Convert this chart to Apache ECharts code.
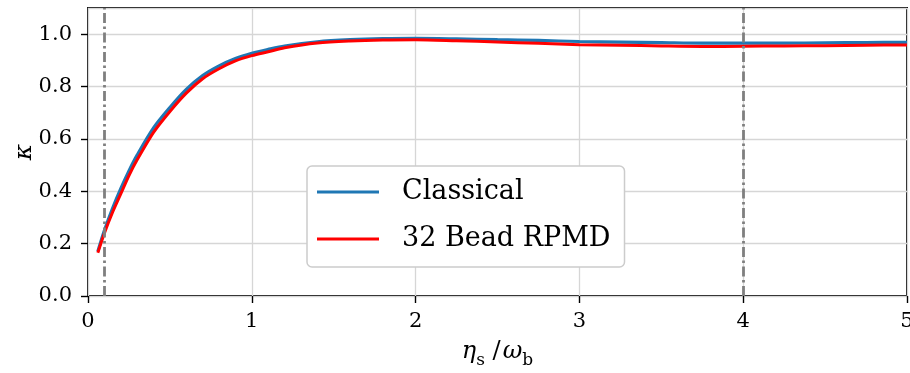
<!DOCTYPE html>
<html>
<head>
<meta charset="utf-8">
<script src="https://cdn.jsdelivr.net/npm/echarts@6/dist/echarts.min.js"></script>
<style>html,body{margin:0;padding:0;background:#fff}#c{width:910px;height:373px}</style>
</head>
<body>
<div id="c"></div>
<script>
const xValues = [0.06,0.1,0.15,0.2,0.25,0.3,0.4,0.5,0.6,0.7,0.8,0.9,1.0,1.1,1.2,1.4,1.6,1.8,2.0,2.25,2.5,2.75,3.0,3.25,3.5,3.75,4.0,4.25,4.5,4.75,5.0];
const classical = [0.17,0.25,0.335,0.41,0.478,0.538,0.642,0.72,0.789,0.842,0.879,0.907,0.927,0.942,0.955,0.971,0.979,0.983,0.984,0.982,0.979,0.976,0.972,0.970,0.968,0.966,0.966,0.966,0.967,0.968,0.969];
const rpmd32 = [0.165,0.24,0.32,0.39,0.46,0.52,0.625,0.705,0.775,0.83,0.868,0.898,0.918,0.933,0.948,0.966,0.974,0.978,0.979,0.975,0.970,0.965,0.960,0.958,0.955,0.953,0.954,0.955,0.956,0.958,0.959];
const seriesNames = ['Classical','32 Bead RPMD'];
const vLines = [0.1, 4];

const FONT = 'DejaVu Serif';
const chart = echarts.init(document.getElementById('c'), null, {renderer:'canvas'});
const pair = (xs, ys) => xs.map((x,i)=>[x, ys[i]]);
chart.setOption({
  backgroundColor:'#fff',
  animation:false,
  grid:{left:88,right:3,top:8,bottom:77,outerBoundsMode:'none',containLabel:false,show:true,borderColor:'#000',borderWidth:1.8,backgroundColor:'transparent'},
  xAxis:{
    type:'value',min:0,max:5,interval:1,
    axisLine:{show:false},
    axisTick:{show:true,length:7,lineStyle:{color:'#000',width:1.4}},
    axisLabel:{margin:15,color:'#000',fontFamily:FONT,fontSize:21,formatter:v=>String(v)},
    splitLine:{show:true,lineStyle:{color:'#d6d6d6',width:1.3}},
    name:'{it|η}{sub|s}{n| /}{it|ω}{sub|b}',
    nameLocation:'middle',nameGap:44,nameMoveOverlap:false,
    nameTextStyle:{color:'#000',fontFamily:FONT,fontSize:24,rich:{
      it:{fontFamily:FONT,fontStyle:'italic',fontSize:24,verticalAlign:'bottom',padding:[0,0,5,0],color:'#000'},
      n:{fontFamily:FONT,fontSize:24,verticalAlign:'bottom',padding:[0,2,5,0],color:'#000'},
      sub:{fontFamily:FONT,fontSize:17,verticalAlign:'bottom',color:'#000'}
    }}
  },
  yAxis:{
    type:'value',min:0,max:1.1,interval:0.2,
    axisLine:{show:false},
    axisTick:{show:true,length:7,lineStyle:{color:'#000',width:1.4}},
    axisLabel:{margin:16,color:'#000',fontFamily:FONT,fontSize:21,showMaxLabel:false,formatter:v=>v.toFixed(1)},
    splitLine:{show:true,lineStyle:{color:'#d6d6d6',width:1.3}},
    name:'κ',nameLocation:'middle',nameGap:51,nameRotate:90,nameMoveOverlap:false,
    nameTextStyle:{color:'#000',fontFamily:FONT,fontStyle:'italic',fontSize:25}
  },
  legend:{
    left:307,top:166,orient:'vertical',
    data:seriesNames,
    icon:'rect',itemWidth:62,itemHeight:3,itemGap:17,
    padding:[11,14,13,10],
    backgroundColor:'#fff',borderColor:'#cccccc',borderWidth:1.5,borderRadius:5,
    textStyle:{fontFamily:FONT,fontSize:27,lineHeight:30,color:'#000',padding:[0,0,0,18]}
  },
  series:[
    {name:seriesNames[0],type:'line',data:pair(xValues,classical),showSymbol:false,smooth:0.3,
      lineStyle:{color:'#1f77b4',width:3.2},itemStyle:{color:'#1f77b4'},z:2},
    {name:seriesNames[1],type:'line',data:pair(xValues,rpmd32),showSymbol:false,smooth:0.3,
      lineStyle:{color:'#ff0000',width:3},itemStyle:{color:'#ff0000'},z:3,
      markLine:{silent:true,symbol:['none','none'],label:{show:false},
        lineStyle:{color:'#7f7f7f',width:2.8,type:[10,3.5,2.5,3.5]},
        data:vLines.map(v=>({xAxis:v}))}}
  ]
});
</script>
</body>
</html>
